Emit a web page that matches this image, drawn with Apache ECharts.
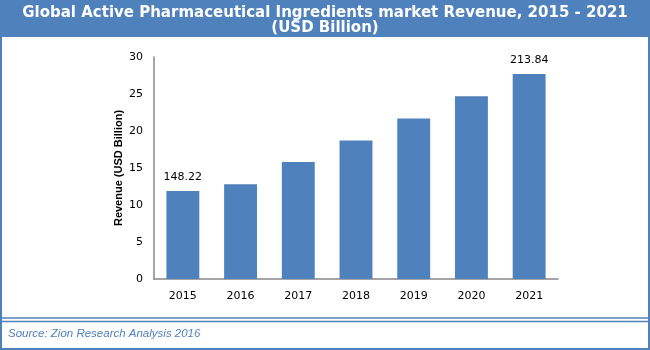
<!DOCTYPE html>
<html>
<head>
<meta charset="utf-8">
<script src="https://cdn.jsdelivr.net/npm/echarts@6/dist/echarts.min.js"></script>
<style>
  html, body { margin: 0; padding: 0; background: #fff; }
  #chart { width: 650px; height: 350px; }
</style>
</head>
<body>
<div id="chart"></div>
<script>
let years = ['2015', '2016', '2017', '2018', '2019', '2020', '2021'];
let revenue = [11.9, 12.8, 15.8, 18.7, 21.7, 24.7, 27.7];
let barLabels = ['148.22', '', '', '', '', '', '213.84'];
let yTicks = [0, 5, 10, 15, 20, 25, 30];

let blue = '#4F81BD';
let myChart = echarts.init(document.getElementById('chart'));

let option = {
    animation: false,
    backgroundColor: '#fff',
    title: {
        text: 'Global Active Pharmaceutical Ingredients market Revenue, 2015 - 2021\n(USD Billion)',
        left: 'center',
        top: 1,
        textStyle: {
            color: '#fff',
            fontFamily: 'DejaVu Sans',
            fontWeight: 'bold',
            fontSize: 15,
            lineHeight: 15
        }
    },
    graphic: [
        // banner + frame
        { type: 'rect', z: -1, shape: { x: 0, y: 0, width: 650, height: 37 }, style: { fill: blue } },
        { type: 'rect', shape: { x: 1, y: 1, width: 648, height: 348 }, style: { fill: null, stroke: blue, lineWidth: 2 } },
        { type: 'line', shape: { x1: 0, y1: 318, x2: 650, y2: 318 }, style: { stroke: blue, lineWidth: 1.5 } },
        { type: 'line', shape: { x1: 0, y1: 321.5, x2: 650, y2: 321.5 }, style: { stroke: blue, lineWidth: 1.5 } },
        {
            type: 'text', left: 8, top: 328,
            style: {
                text: 'Source: Zion Research Analysis 2016',
                fill: blue,
                font: 'italic 11.5px "Liberation Sans"'
            }
        }
    ],
    grid: {
        left: 154,
        right: 92,
        top: 57,
        bottom: 71
    },
    xAxis: {
        type: 'category',
        data: years,
        axisTick: { show: false },
        axisLine: { lineStyle: { color: '#888', width: 1.5 } },
        axisLabel: { color: '#000', fontFamily: 'DejaVu Sans', fontSize: 11, margin: 12 }
    },
    yAxis: {
        type: 'value',
        min: yTicks[0],
        max: yTicks[yTicks.length - 1],
        interval: 5,
        name: 'Revenue (USD Billion)',
        nameLocation: 'middle',
        nameGap: 30,
        nameMoveOverlap: false,
        nameTextStyle: { color: '#000', fontFamily: 'Liberation Sans', fontWeight: 'bold', fontSize: 11 },
        splitLine: { show: false },
        axisTick: { show: false },
        axisLine: { show: true, lineStyle: { color: '#888', width: 1.5 } },
        axisLabel: { color: '#000', fontFamily: 'DejaVu Sans', fontSize: 11, margin: 11 }
    },
    series: [{
        type: 'bar',
        data: revenue,
        barWidth: '57%',
        itemStyle: { color: blue },
        label: {
            show: true,
            position: 'top',
            distance: 8,
            color: '#000',
            fontFamily: 'DejaVu Sans',
            fontSize: 11,
            formatter: p => barLabels[p.dataIndex]
        }
    }]
};

myChart.setOption(option);
</script>
</body>
</html>
